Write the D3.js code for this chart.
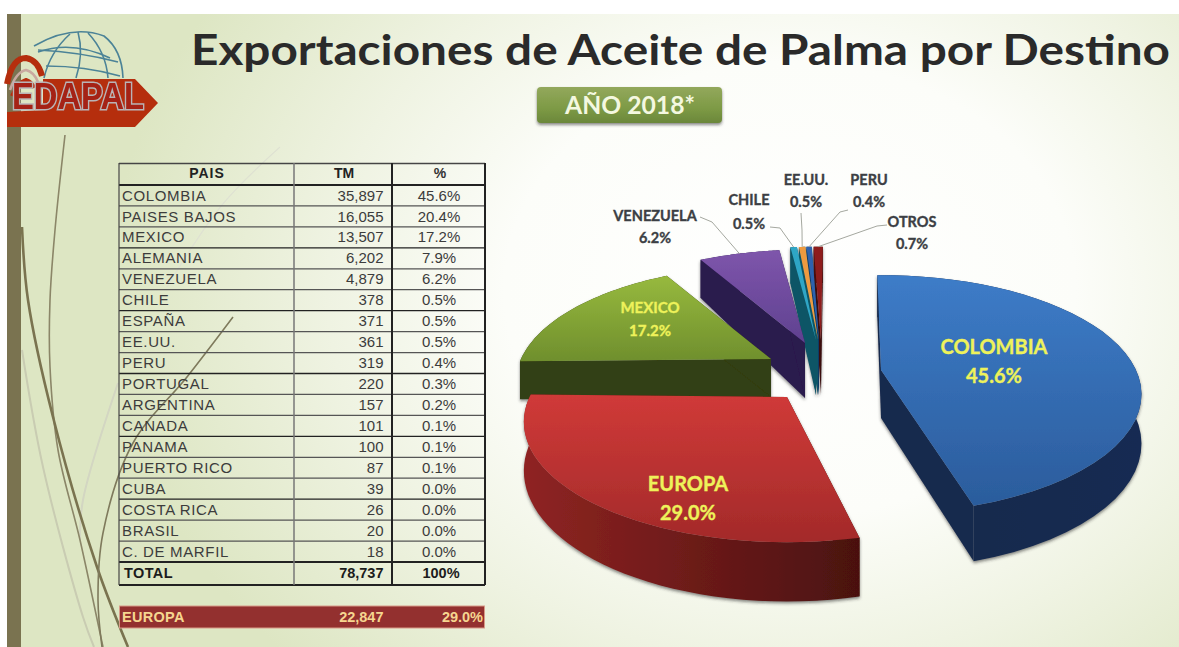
<!DOCTYPE html>
<html><head><meta charset="utf-8">
<script src="https://cdn.jsdelivr.net/npm/d3@7"></script>
<style>html,body{margin:0;padding:0;background:#fff;overflow:hidden}svg{display:block}</style>
</head><body><svg id="c" width="1179" height="647"></svg>
<script>
// ---- table data
const countries=["COLOMBIA","PAISES BAJOS","MEXICO","ALEMANIA","VENEZUELA","CHILE","ESPAÑA","EE.UU.","PERU","PORTUGAL","ARGENTINA","CANADA","PANAMA","PUERTO RICO","CUBA","COSTA RICA","BRASIL","C. DE MARFIL"];
const tonnes=["35,897","16,055","13,507","6,202","4,879","378","371","361","319","220","157","101","100","87","39","26","20","18"];
const shares=["45.6%","20.4%","17.2%","7.9%","6.2%","0.5%","0.5%","0.5%","0.4%","0.3%","0.2%","0.1%","0.1%","0.1%","0.0%","0.0%","0.0%","0.0%"];
const tableHeads=["PAIS","TM","%"];
const totalRow=["TOTAL","78,737","100%"];
const europeRow=["EUROPA","22,847","29.0%"];
// ---- pie data
const sliceNames=["COLOMBIA","EUROPA","MEXICO","VENEZUELA","CHILE","EE.UU.","PERU","OTROS"];
const sliceValues=[45.6,29.0,17.2,6.2,0.5,0.5,0.4,0.7];
const sliceLabels=["45.6%","29.0%","17.2%","6.2%","0.5%","0.5%","0.4%","0.7%"];
// ---- pie styling / layout (explosion offsets, extrusion)
const topLight=["#3d7cc8","#d03a38","#97b93e","#7e55ab","#2fa6c6","#ee9a40","#2f62ae","#8e1c1c"];
const topDark=["#2b5c9c","#a32a2a","#6f8f2d","#5f4190","#2fa6c6","#ee9a40","#2f62ae","#8e1c1c"];
const rimLeft=["#13284b","#8f2422","#333f12","#2a1a4d","#0f5566","#0f5566","#0f3a66","#4a1010"];
const rimRight=["#142c52","#4a1110","#333f12","#2a1a4d","#0f5566","#0f5566","#0f3a66","#3a0c0c"];
const faceFill=["#14294d","#4f1312","#333f12","#2a1a4d","#0f5566","#0f5566","#0f3a66","#3a0c0c"];
const explodeX=[76,-18,-34,0,11,13,14,16];
const explodeY=[2,29,-9,-25,-28,-28,-28,-28];
const radiusScale=[1.02,1.03,1,1,1,1,1,1];
const angleNudge=[-1.5,2.5,0,0,0,0,0,0];
const depthBase=[48,47,38,55,55,55,55,55];
const depthPersp=[.14,.2,0,.51,.51,.51,.51,.51];
const drawOrder=[7,6,5,4,3,2,0,1];
// label layout: [cx, y1, y2, elbowX, elbowY, startX, startY]
const labelLayout=[[994,347,376],[688,484,513],[650,308,331],[655,216,238,712,222,700,217],[749,200,224,780,228,770,227],[806,180,202,802,230,801,213],[869,180,202,840,212,848,210],[912,222,244,877,226,887,225]];

const svg=d3.select("#c");
const defs=svg.append("defs");
const rg=defs.append("radialGradient").attr("id","bg").attr("gradientUnits","userSpaceOnUse")
 .attr("cx",790).attr("cy",290).attr("r",680).attr("gradientTransform","translate(790 290) scale(1 .8) translate(-790 -290)");
[[0,"#ffffff"],[.42,"#fcfdf9"],[.68,"#eff3e2"],[1,"#dde6c3"]].forEach(d=>rg.append("stop").attr("offset",d[0]).attr("stop-color",d[1]));
defs.append("filter").attr("id","soft").append("feGaussianBlur").attr("stdDeviation",.45);
const sh=defs.append("filter").attr("id","shadow").attr("x","-10%").attr("y","-10%").attr("width","120%").attr("height","130%");
sh.append("feDropShadow").attr("dx",0).attr("dy",2).attr("stdDeviation",1.6).attr("flood-color","#333").attr("flood-opacity",.55);

// ---- slide background
svg.append("rect").attr("x",7).attr("y",14).attr("width",1172).attr("height",633).attr("fill","url(#bg)");
svg.append("rect").attr("x",7).attr("y",14).attr("width",14).attr("height",633).attr("fill","#7a7350");

// ---- stems
const curve=d3.line().curve(d3.curveCatmullRom);
const stems=[
 {p:[[22,350],[43,467],[83,617],[94,647]],c:"#c9ccb2",w:2},
 {p:[[118,383],[83,500],[80,540]],c:"#d3d6c2",w:2},
 {p:[[280,147],[222,205],[167,287]],c:"#dfe2d2",w:1.2},
 {p:[[65,135],[55,230],[50,300],[50,367],[58,450],[80,540],[100,633],[103,647]],c:"#8b8668",w:1.6},
 {p:[[22,227],[28,300],[53,417],[97,567],[128,647]],c:"#7a7350",w:2.6},
 {p:[[233,317],[187,377],[133,443],[103,533],[98,600],[102,647]],c:"#7f7a5c",w:1.6}];
svg.append("g").attr("filter","url(#soft)").selectAll("path").data(stems).join("path")
 .attr("d",d=>curve(d.p)).attr("fill","none").attr("stroke",d=>d.c).attr("stroke-width",d=>d.w);

// ---- logo
const logo=svg.append("g").attr("filter","url(#soft)");
["M34 46Q72 24 104 36Q122 50 123 78","M38 52Q72 40 110 58","M44 78Q50 52 70 34","M76 78Q84 54 78 32","M108 78Q106 52 88 33","M38 50Q80 52 118 62","M46 66Q85 66 120 76"]
 .forEach(d=>logo.append("path").attr("d",d).attr("fill","none").attr("stroke","#4c8397").attr("stroke-width",1.6));
logo.append("path").attr("d","M7 112L43 110L43 79L135 79L158 103L135 127L7 127Z").attr("fill","#b52d10");
[["M7 84Q12 58 26 58Q38 60 42 76","#b52d10",6],["M10 90Q16 72 26 70Q34 72 38 82","#c9a9a0",2.5],["M12 96Q18 82 26 80Q32 82 34 88","#b52d10",4]]
 .forEach(d=>logo.append("path").attr("d",d[0]).attr("fill","none").attr("stroke",d[1]).attr("stroke-width",d[2]));
logo.append("text").attr("x",12).attr("y",109).attr("font-family","Liberation Sans").attr("font-weight",700).attr("font-size",36)
 .attr("textLength",132).attr("lengthAdjust","spacingAndGlyphs").attr("fill","#a52312").attr("stroke","#b9b4b6").attr("stroke-width",3).attr("paint-order","stroke").text("EDAPAL");

// ---- title and year pill
svg.append("text").attr("x",191).attr("y",64.5).attr("font-family","Lato").attr("font-weight",700).attr("font-size",42)
 .attr("textLength",979).attr("lengthAdjust","spacingAndGlyphs").attr("fill","#2a2a2a").text("Exportaciones de Aceite de Palma por Destino");
const pg=defs.append("linearGradient").attr("id","pill").attr("x1",0).attr("x2",0).attr("y1",0).attr("y2",1);
[[0,"#93a85c"],[.6,"#7d9a45"],[1,"#6b873a"]].forEach(d=>pg.append("stop").attr("offset",d[0]).attr("stop-color",d[1]));
svg.append("rect").attr("x",537).attr("y",87).attr("width",185).attr("height",36).attr("rx",4).attr("fill","url(#pill)").attr("filter","url(#shadow)");
svg.append("text").attr("x",630).attr("y",114).attr("text-anchor","middle").attr("font-family","Lato").attr("font-weight",700).attr("font-size",24)
 .attr("textLength",130).attr("lengthAdjust","spacingAndGlyphs").attr("fill","#f4f8e0").text("AÑO 2018*");

// ---- table
const colX=[119,294,392,485];
const rowH=d3.scaleLinear().domain([0,countries.length]).range([185,562]);
const tg=svg.append("g").attr("filter","url(#soft)");
tg.selectAll("line.h").data(d3.range(0,countries.length+1)).join("line").attr("x1",colX[0]).attr("x2",colX[3])
 .attr("y1",rowH).attr("y2",rowH).attr("stroke",(d,i)=>i%3==0?"#222":"#555").attr("stroke-width",(d,i)=>i==0||i==18?2.2:1.3);
tg.append("line").attr("x1",colX[0]).attr("x2",colX[3]).attr("y1",163.5).attr("y2",163.5).attr("stroke","#444").attr("stroke-width",1.3);
tg.append("line").attr("x1",colX[0]).attr("x2",colX[3]).attr("y1",585).attr("y2",585).attr("stroke","#222").attr("stroke-width",2);
[[0,"#444",1.2],[1,"#777",1.5],[2,"#222",2],[3,"#222",2]].forEach(d=>tg.append("line").attr("x1",colX[d[0]]).attr("x2",colX[d[0]]).attr("y1",163).attr("y2",585).attr("stroke",d[1]).attr("stroke-width",d[2]));
const cell=(x,y,t,o={})=>svg.append("text").attr("x",x).attr("y",y).attr("text-anchor",o.a||"start").attr("font-family","Liberation Sans")
 .attr("font-size",o.s||15).attr("font-weight",o.b?700:400).attr("fill",o.c||"#3c3c3c").attr("letter-spacing",o.l||0).text(t);
cell(207,178,tableHeads[0],{a:"middle",b:1,s:14,l:1,c:"#222"});
cell(344,178,tableHeads[1],{a:"middle",b:1,s:14,c:"#222"});
cell(440,178,tableHeads[2],{a:"middle",b:1,s:14,c:"#333"});
countries.forEach((c,i)=>{const y=rowH(i)+15.6;
 cell(122,y,c,{l:.65}); cell(383.5,y,tonnes[i],{a:"end"}); cell(439,y,shares[i],{a:"middle"});});
cell(124,578,totalRow[0],{b:1,s:14.5,c:"#1c1c1c",l:.4});
cell(383.5,578,totalRow[1],{b:1,s:14.5,a:"end",c:"#1c1c1c"});
cell(441,578,totalRow[2],{b:1,s:14.5,a:"middle",c:"#1c1c1c"});
svg.append("rect").attr("x",119.5).attr("y",606).attr("width",365).attr("height",22).attr("fill","#93302f").attr("stroke","#d89a88").attr("stroke-width",1);
const ec="#f6d690";
cell(122,622,europeRow[0],{b:1,s:14.5,c:ec,l:.3});
cell(383.5,622,europeRow[1],{b:1,s:14.5,a:"end",c:ec});
cell(483,622,europeRow[2],{b:1,s:14.5,a:"end",c:ec});

// ---- 3D pie (perspective projection of d3.pie angles)
const pieCx=805,pieCy=368,R=250,Ry=112,K=.2;
const start=.5*Math.PI/180;
const arcs=d3.pie().sort(null).startAngle(start).endAngle(start+2*Math.PI)(sliceValues)
 .map((d,i)=>({...d,startAngle:d.startAngle+angleNudge[i]*Math.PI/180,endAngle:d.endAngle+angleNudge[i]*Math.PI/180}));
const project=(i,r,a)=>{const rr=r*radiusScale[i],X=rr*Math.sin(a),Y=-rr*Math.cos(a),w=1/(1-K*Y);
 return [pieCx+explodeX[i]+R*X*w,pieCy+explodeY[i]+Ry*Y*w];};
const drop=(i,r,a)=>{const Y=-r*radiusScale[i]*Math.cos(a),p=project(i,r,a);return [p[0],p[1]+depthBase[i]/(1-depthPersp[i]*Y)];};
const arcPts=(f,i,a0,a1)=>d3.range(0,41).map(k=>f(i,1,a0+(a1-a0)*k/40));
const line=d3.line();
const pie=svg.append("g").attr("filter","url(#shadow)");
drawOrder.forEach(i=>{const d=arcs[i],a0=d.startAngle,a1=d.endAngle;
 const rg1=defs.append("linearGradient").attr("id","rim"+i);
 rg1.append("stop").attr("offset",0).attr("stop-color",rimLeft[i]);rg1.append("stop").attr("offset",1).attr("stop-color",rimRight[i]);
 const tg1=defs.append("linearGradient").attr("id","top"+i).attr("x1",0).attr("x2",0).attr("y1",0).attr("y2",1);
 tg1.append("stop").attr("offset",0).attr("stop-color",topLight[i]);tg1.append("stop").attr("offset",1).attr("stop-color",topDark[i]);
 const g=pie.append("g");
 [a0,a1].forEach(a=>g.append("path").attr("d",line([project(i,0,a),project(i,1,a),drop(i,1,a),drop(i,0,a)])+"Z").attr("fill",faceFill[i]));
 g.append("path").attr("d",line([...arcPts(project,i,a0,a1),...arcPts(drop,i,a0,a1).reverse()])+"Z").attr("fill","url(#rim"+i+")");
 g.append("path").attr("d",line([project(i,0,a0),...arcPts(project,i,a0,a1)])+"Z").attr("fill","url(#top"+i+")");
});

// ---- leader lines and labels
const labels=svg.append("g");
sliceNames.forEach((n,i)=>{const L=labelLayout[i],inside=i<3;
 if(!inside){const m=project(i,1,(arcs[i].startAngle+arcs[i].endAngle)/2);
  labels.append("path").attr("d",line([[L[5],L[6]],[L[3],L[4]],m])).attr("fill","none").attr("stroke","#a5a8a0").attr("stroke-width",1);}
 const fs=i==2?15:inside?20:14.5, col=inside?"#eef25a":"#3c3f44";
 [[n,L[1]],[sliceLabels[i],L[2]]].forEach(t=>labels.append("text").attr("x",L[0]).attr("y",t[1]+fs*.35).attr("text-anchor","middle")
  .attr("font-family","Lato").attr("font-weight",700).attr("font-size",fs).attr("fill",col).attr("stroke",col).attr("stroke-width",.35).text(t[0]));
});
</script></body></html>
